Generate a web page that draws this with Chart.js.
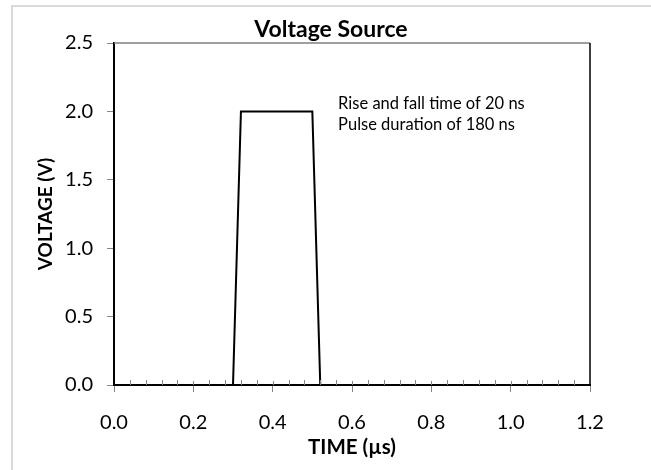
<!DOCTYPE html>
<html>
<head>
<meta charset="utf-8">
<script src="https://cdn.jsdelivr.net/npm/chart.js@4.4.0/dist/chart.umd.min.js"></script>
<style>
  html, body { margin: 0; padding: 0; background: #ffffff; }
  #wrap { width: 651px; height: 470px; position: relative; }
</style>
</head>
<body>
<div id="wrap"><canvas id="c" width="651" height="470"></canvas></div>
<script>
// ---- data ----
const timeUs   = [0.0, 0.30, 0.32, 0.50, 0.52, 1.2];
const voltageV = [0.0, 0.0, 2.0, 2.0, 0.0, 0.0];
const xTickValues = [0.0, 0.2, 0.4, 0.6, 0.8, 1.0, 1.2];
const yTickValues = [0.0, 0.5, 1.0, 1.5, 2.0, 2.5];
const xMinorStep = 0.04;
const chartTitle = 'Voltage Source';
const xTitle = 'TIME (\u00B5s)';
const yTitle = 'VOLTAGE (V)';
const noteLines = ['Rise and fall time of 20 ns', 'Pulse duration of 180 ns'];
const noteX = 0.565;
const noteY = [2.06, 1.90];

const FONT = 'Lato, "Open Sans", "DejaVu Sans", sans-serif';

const points = timeUs.map((t, i) => ({ x: t, y: voltageV[i] }));

const decorPlugin = {
  id: 'decor',
  beforeDraw(chart) {
    const ctx = chart.ctx;
    ctx.save();
    ctx.strokeStyle = '#d9d9d9';
    ctx.lineWidth = 2;
    ctx.beginPath();
    ctx.moveTo(12, chart.height);
    ctx.lineTo(12, 6);
    ctx.lineTo(chart.width, 6);
    ctx.stroke();
    ctx.restore();
  },
  afterDraw(chart) {
    const ctx = chart.ctx;
    const xs = chart.scales.x, ys = chart.scales.y;
    const a = chart.chartArea;
    ctx.save();
    // top & right frame of plot area
    ctx.lineWidth = 1.5;
    ctx.strokeStyle = '#7f7f7f';
    ctx.beginPath();
    ctx.moveTo(a.left, a.top);
    ctx.lineTo(a.right, a.top);
    ctx.stroke();
    ctx.strokeStyle = '#000000';
    ctx.beginPath();
    ctx.moveTo(a.right, a.top);
    ctx.lineTo(a.right, a.bottom);
    ctx.stroke();
    // x minor ticks (inside) and upper half of major ticks (cross)
    ctx.strokeStyle = '#868686';
    ctx.lineWidth = 1;
    const n = Math.round((xs.max - xs.min) / xMinorStep);
    for (let i = 1; i < n; i++) {
      const v = xs.min + i * xMinorStep;
      const px = Math.round(xs.getPixelForValue(v)) + 0.5;
      const isMajor = Math.abs(v / 0.2 - Math.round(v / 0.2)) < 1e-6;
      ctx.beginPath();
      ctx.moveTo(px, a.bottom);
      ctx.lineTo(px, a.bottom - (isMajor ? 4 : 5));
      ctx.stroke();
    }
    // title
    ctx.fillStyle = '#000000';
    ctx.font = 'bold 23px ' + FONT;
    ctx.textAlign = 'center';
    ctx.textBaseline = 'middle';
    ctx.fillText(chartTitle, 331, 30);
    // note
    ctx.font = '16.5px ' + FONT;
    ctx.textAlign = 'left';
    noteLines.forEach((s, i) => {
      ctx.fillText(s, xs.getPixelForValue(noteX), ys.getPixelForValue(noteY[i]));
    });
    ctx.restore();
  }
};

new Chart(document.getElementById('c'), {
  type: 'scatter',
  data: {
    datasets: [{
      data: points,
      showLine: true,
      borderColor: '#000000',
      borderWidth: 2,
      pointRadius: 0,
      pointHoverRadius: 0,
      tension: 0,
      fill: false
    }]
  },
  options: {
    responsive: false,
    animation: false,
    devicePixelRatio: 1,
    layout: { padding: { top: 43, right: 61, left: 0, bottom: 0 } },
    plugins: {
      legend: { display: false },
      title: { display: false },
      tooltip: { enabled: false }
    },
    scales: {
      x: {
        type: 'linear',
        min: 0,
        max: 1.2,
        afterFit(s) { s.height = 85; },
        afterBuildTicks(s) { s.ticks = xTickValues.map(v => ({ value: v })); },
        ticks: {
          color: '#000000',
          font: { family: FONT, size: 20 },
          padding: 19,
          maxRotation: 0,
          autoSkip: false,
          callback: v => Number(v).toFixed(1)
        },
        grid: {
          drawOnChartArea: false,
          drawTicks: true,
          tickLength: 7,
          tickColor: '#868686',
          tickWidth: 1
        },
        border: { display: true, color: '#000000', width: 2 },
        title: {
          display: true,
          text: xTitle,
          color: '#000000',
          font: { family: FONT, size: 20.5, weight: 'bold' },
          padding: { top: 0, bottom: 10 }
        }
      },
      y: {
        type: 'linear',
        min: 0,
        max: 2.5,
        afterFit(s) { s.width = 114; },
        afterBuildTicks(s) { s.ticks = yTickValues.map(v => ({ value: v })); },
        ticks: {
          color: '#000000',
          font: { family: FONT, size: 20 },
          padding: 14,
          autoSkip: false,
          callback: v => Number(v).toFixed(1)
        },
        grid: {
          drawOnChartArea: false,
          drawTicks: true,
          tickLength: 7,
          tickColor: '#868686',
          tickWidth: 1
        },
        border: { display: true, color: '#000000', width: 2 },
        title: {
          display: true,
          text: yTitle,
          color: '#000000',
          font: { family: FONT, size: 19, weight: 'bold' },
          padding: { top: 34, bottom: 0 }
        }
      }
    }
  },
  plugins: [decorPlugin]
});
</script>
</body>
</html>
